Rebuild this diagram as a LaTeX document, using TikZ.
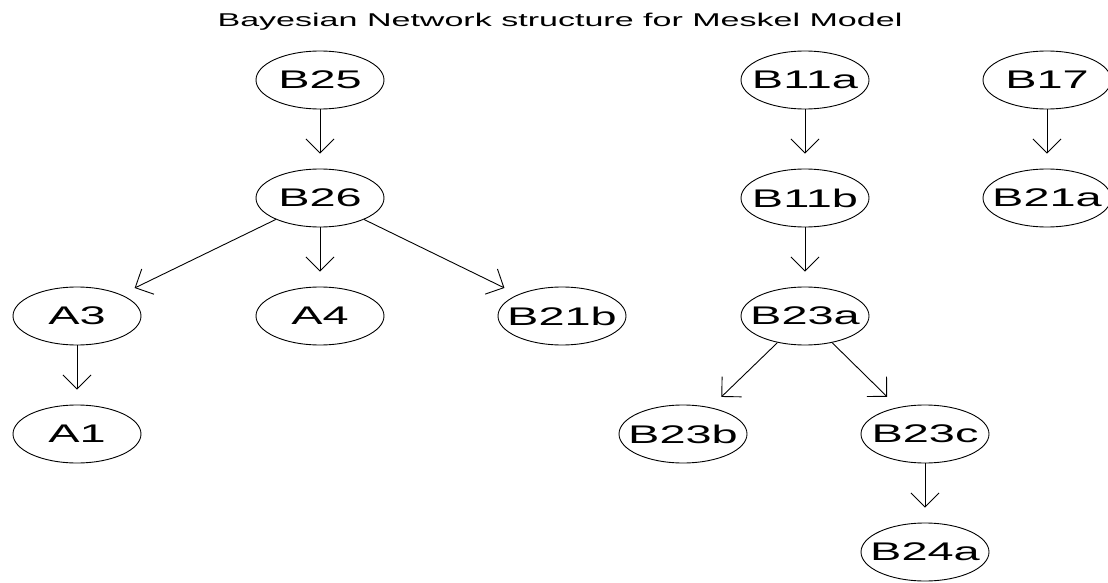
\documentclass[tikz,border=0pt]{standalone}
\usepackage{fontspec}
\setmainfont{Liberation Sans}
\usetikzlibrary{
  shapes.geometric,
  arrows.meta
}
\newcommand{\lbl}[1]{\makebox[0pt]{\scalebox{1.84}[1]{#1}}}
\tikzset{
  >={Straight Barb[length=14pt,width=28pt]},
  bnode/.style={
    draw, ellipse, line width=0.9pt,
    minimum width=128pt, minimum height=58pt, inner sep=0pt,
    font=\fontsize{25.5}{30}\selectfont
  },
  edge/.style={->, line width=0.9pt, shorten >=15pt}
}

\begin{document}
\begin{tikzpicture}[x=1pt,y=-1pt]
\useasboundingbox (0,0) rectangle (1108,583);
\node[font=\fontsize{18.5}{22}\selectfont, anchor=base] (title) at (560,27)
  {\scalebox{1.84}[1]{Bayesian Network structure for Meskel Model}};
\foreach \k/\x/\y in {%
  B25/320/80, B26/320/198,
  A3/77/316, A4/320/316, B21b/562/316,
  A1/77/434,
  B11a/805/80, B11b/805/198, B23a/805/316,
  B23b/683/434, B23c/925/434, B24a/925/552,
  B17/1047/80, B21a/1047/198%
} {
  \node[bnode] (\k) at (\x,\y) {\lbl{\k}};
}
\foreach \a/\b in {%
  B25/B26, B26/A3, B26/A4, B26/B21b, A3/A1,
  B11a/B11b, B11b/B23a, B23a/B23b, B23a/B23c, B23c/B24a,
  B17/B21a%
} {
  \draw[edge] (\a) -- (\b);
}
\end{tikzpicture}
\end{document}
